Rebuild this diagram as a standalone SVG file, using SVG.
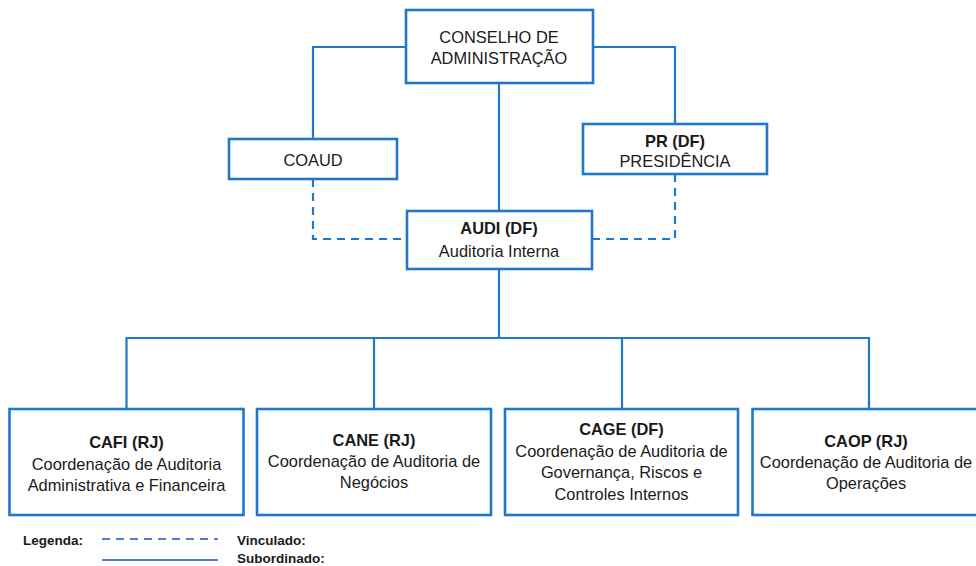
<svg xmlns="http://www.w3.org/2000/svg" width="976" height="566" viewBox="0 0 976 566">
<style>
.box{fill:#fff;stroke:#1f78c9;stroke-width:2.6}
.ln{fill:none;stroke:#1f78c9;stroke-width:2.2}
.dash{stroke-dasharray:8 6}
.t{font-family:"Liberation Sans",Arial,sans-serif;font-size:16.4px;fill:#1a1a1a;text-anchor:middle}
.b{font-weight:bold}
.lg{font-family:"Liberation Sans",Arial,sans-serif;font-size:13.5px;font-weight:bold;fill:#1a1a1a}
.lgl{fill:none;stroke:#4a7fd0;stroke-width:2}
</style>
<rect width="976" height="566" fill="#fff"/>
<g id="connectors">
<path class="ln" d="M406 47 H313 V139"/>
<path class="ln" d="M593 47 H675 V124"/>
<path class="ln" d="M499 83 V211"/>
<path class="ln dash" d="M313 179 V239 H407"/>
<path class="ln dash" d="M675 174 V239 H592"/>
<path class="ln" d="M499 269 V338"/>
<path class="ln" d="M126.5 409 V338 H869 V409"/>
<path class="ln" d="M374 338 V409"/>
<path class="ln" d="M622 338 V409"/>
</g>
<g id="conselho">
<rect class="box" x="406" y="10" width="187" height="73"/>
<text class="t" x="499" y="43">CONSELHO DE</text>
<text class="t" x="499" y="64">ADMINISTRAÇÃO</text>
</g>
<g id="coaud">
<rect class="box" x="229" y="139" width="168" height="40"/>
<text class="t" x="313" y="166">COAUD</text>
</g>
<g id="pr">
<rect class="box" x="583" y="124" width="184" height="50"/>
<text class="t b" x="675" y="147">PR (DF)</text>
<text class="t" x="675" y="167">PRESIDÊNCIA</text>
</g>
<g id="audi">
<rect class="box" x="407" y="211" width="185" height="58"/>
<text class="t b" x="499" y="234">AUDI (DF)</text>
<text class="t" x="499" y="257">Auditoria Interna</text>
</g>
<g id="cafi">
<rect class="box" x="9.5" y="409" width="234" height="106"/>
<text class="t b" x="126.5" y="448">CAFI (RJ)</text>
<text class="t" x="126.5" y="470">Coordenação de Auditoria</text>
<text class="t" x="126.5" y="491">Administrativa e Financeira</text>
</g>
<g id="cane">
<rect class="box" x="257" y="409" width="234" height="106"/>
<text class="t b" x="374" y="446">CANE (RJ)</text>
<text class="t" x="374" y="467">Coordenação de Auditoria de</text>
<text class="t" x="374" y="488">Negócios</text>
</g>
<g id="cage">
<rect class="box" x="505" y="409" width="233" height="106"/>
<text class="t b" x="621.5" y="435">CAGE (DF)</text>
<text class="t" x="621.5" y="457">Coordenação de Auditoria de</text>
<text class="t" x="621.5" y="478">Governança, Riscos e</text>
<text class="t" x="621.5" y="500">Controles Internos</text>
</g>
<g id="caop">
<rect class="box" x="752.5" y="409" width="234" height="106"/>
<text class="t b" x="866" y="447">CAOP (RJ)</text>
<text class="t" x="866" y="468">Coordenação de Auditoria de</text>
<text class="t" x="866" y="489">Operações</text>
</g>
<g id="legend">
<text class="lg" x="23" y="545">Legenda:</text>
<line class="lgl" x1="102" y1="539" x2="218" y2="539" stroke-dasharray="8 6"/>
<text class="lg" x="237" y="545">Vinculado:</text>
<line class="lgl" x1="102" y1="560" x2="218" y2="560"/>
<text class="lg" x="237" y="563">Subordinado:</text>
</g>
</svg>
